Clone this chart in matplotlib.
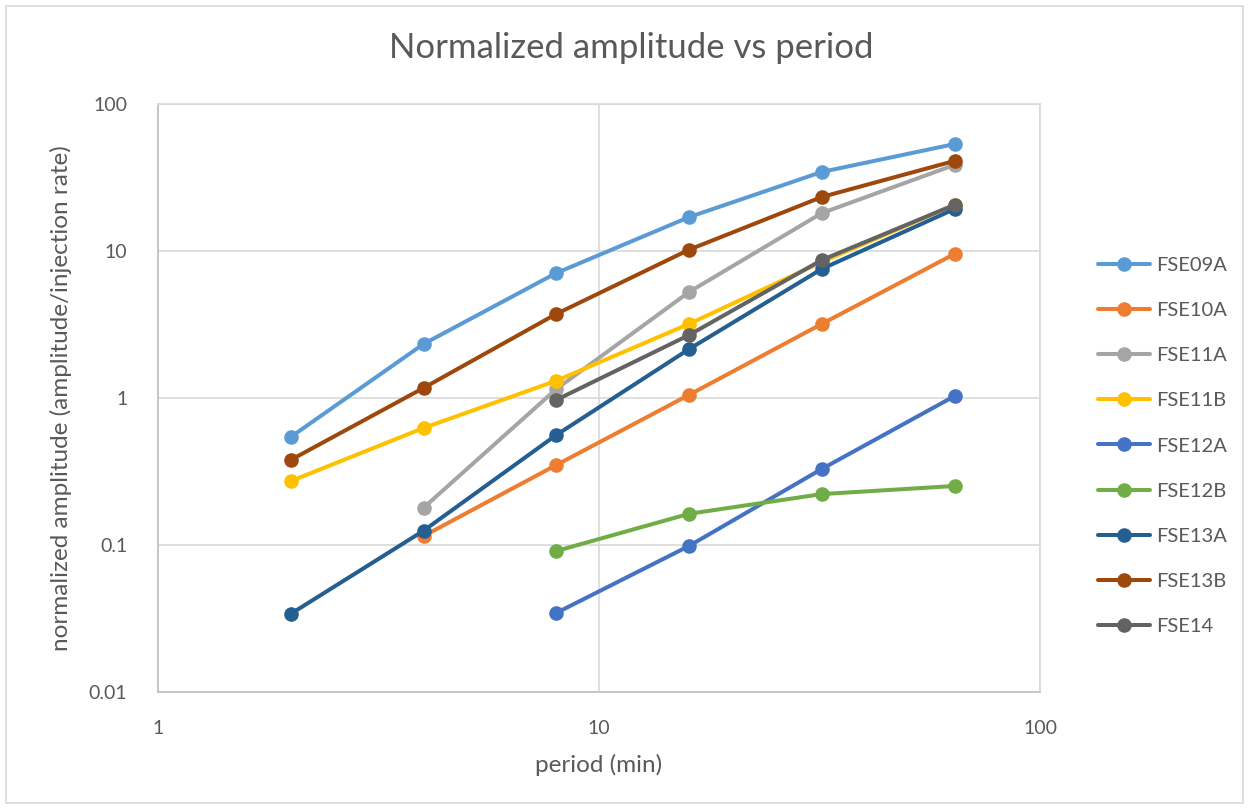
import matplotlib
matplotlib.use("Agg")
import matplotlib.pyplot as plt
from matplotlib.patches import Rectangle
from matplotlib.ticker import FixedLocator, FixedFormatter, NullLocator

plt.rcParams['font.family'] = ['Lato', 'DejaVu Sans']

# Periods (min) and normalized amplitudes per well
periods = [2, 4, 8, 16, 32, 64]

series_names = ["FSE09A", "FSE10A", "FSE11A", "FSE11B", "FSE12A",
                "FSE12B", "FSE13A", "FSE13B", "FSE14"]

fse09a = [0.543, 2.33, 7.08, 17.0, 34.5, 53.4]
fse10a = [None, 0.115, 0.35, 1.05, 3.19, 9.55]
fse11a = [None, 0.179, 1.15, 5.26, 18.1, 38.5]
fse11b = [0.272, 0.625, 1.31, 3.19, 8.42, 20.6]
fse12a = [None, None, 0.0345, 0.0985, 0.329, 1.03]
fse12b = [None, None, 0.091, 0.163, 0.222, 0.252]
fse13a = [0.034, 0.125, 0.56, 2.15, 7.55, 19.3]
fse13b = [0.379, 1.17, 3.73, 10.2, 23.3, 41.0]
fse14 = [None, None, 0.97, 2.68, 8.68, 20.6]

series_values = [fse09a, fse10a, fse11a, fse11b, fse12a,
                 fse12b, fse13a, fse13b, fse14]

colors = ["#5B9BD5", "#ED7D31", "#A5A5A5", "#FFC000", "#4472C4",
          "#70AD47", "#255E91", "#9E480E", "#636363"]

x_ticks = [1, 10, 100]
x_tick_labels = ["1", "10", "100"]
y_ticks = [0.01, 0.1, 1, 10, 100]
y_tick_labels = ["0.01", "0.1", "1", "10", "100"]

text_color = "#595959"

fig = plt.figure(figsize=(12.5, 8.08), dpi=100)
ax = fig.add_axes([158 / 1250, 1 - 692 / 808, (1040 - 158) / 1250, (692 - 104) / 808])

# Outer chart border
fig.patches.append(Rectangle((6 / 1250, 5 / 808), 1237 / 1250, 797 / 808,
                             transform=fig.transFigure, fill=False,
                             edgecolor="#D9D9D9", linewidth=1.2))

handles = []
for name, vals, col in zip(series_names, series_values, colors):
    xs = [p for p, v in zip(periods, vals) if v is not None]
    ys = [v for v in vals if v is not None]
    ln, = ax.plot(xs, ys, color=col, linewidth=2.9, marker='o',
                  markersize=10.5, markeredgewidth=0, solid_capstyle='round',
                  label=name, zorder=3)
    handles.append(ln)

ax.set_xscale('log')
ax.set_yscale('log')
ax.set_xlim(1, 100)
ax.set_ylim(0.01, 100)

ax.xaxis.set_major_locator(FixedLocator(x_ticks))
ax.xaxis.set_major_formatter(FixedFormatter(x_tick_labels))
ax.xaxis.set_minor_locator(NullLocator())
ax.yaxis.set_major_locator(FixedLocator(y_ticks))
ax.yaxis.set_major_formatter(FixedFormatter(y_tick_labels))
ax.yaxis.set_minor_locator(NullLocator())

ax.grid(True, which='major', color="#D9D9D9", linewidth=1.2, zorder=0)
ax.set_axisbelow(True)
for side in ['top', 'right']:
    ax.spines[side].set_color("#D9D9D9")
    ax.spines[side].set_linewidth(1.2)
for side in ['left', 'bottom']:
    ax.spines[side].set_color("#BFBFBF")
    ax.spines[side].set_linewidth(1.2)

ax.tick_params(axis='both', length=0, labelsize=14, labelcolor=text_color)
ax.tick_params(axis='x', pad=20)
ax.tick_params(axis='y', pad=22)

ax.set_xlabel("period (min)", fontsize=17.5, color=text_color, labelpad=12)
ax.set_ylabel("normalized amplitude (amplitude/injection rate)", fontsize=17.5,
              color=text_color, labelpad=12)

fig.text(631 / 1250, 1 - 48 / 808, "Normalized amplitude vs period",
         fontsize=25, color=text_color, ha='center', va='center')

leg = fig.legend(handles=handles, loc='upper left',
                 bbox_to_anchor=(1088 / 1250, 1 - 247 / 808),
                 frameon=False, fontsize=14.5, labelspacing=1.39,
                 handlelength=2.6, handletextpad=0.3, borderpad=0)
for t in leg.get_texts():
    t.set_color(text_color)

fig.savefig("out.png", dpi=100)
